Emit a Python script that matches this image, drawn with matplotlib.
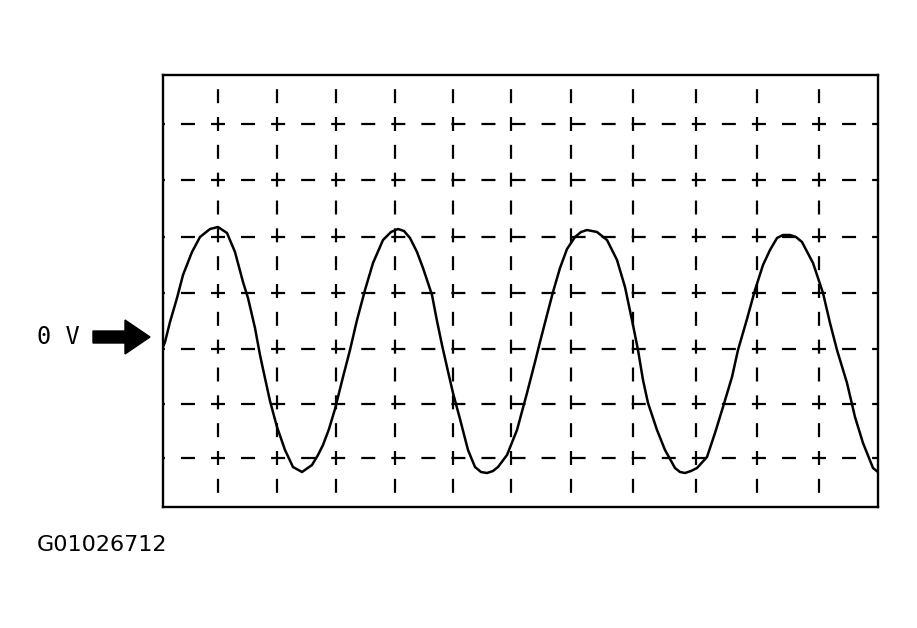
import matplotlib.pyplot as plt
from matplotlib.patches import FancyArrow

# scope trace, in screen units (1 unit ~ 1 px)
# time measured from the left edge of the screen, voltage from the 0 V level
TIME = [0, 2, 7, 14, 20, 29, 37, 47, 55, 64, 72, 80, 85, 92, 97, 100, 107,
        114, 122, 130, 139, 149, 155, 160, 166, 172, 180, 187, 194, 202, 210,
        220, 228, 235, 241, 247, 254, 260, 269, 274, 279, 284, 290, 297, 305,
        312, 318, 324, 330, 335, 344, 354, 364, 372, 377, 384, 390, 397, 404,
        412, 418, 424, 434, 444, 454, 462, 470, 475, 480, 485, 494, 502, 512,
        517, 522, 528, 534, 544, 552, 560, 569, 575, 584, 592, 600, 607, 614,
        620, 627, 633, 639, 650, 660, 667, 674, 684, 692, 700, 710, 715]
VOLT = [2, 7, 27, 51, 74, 97, 112, 120, 122, 116, 97, 67, 51, 21, -6, -20,
        -52, -78, -101, -118, -123, -116, -106, -96, -80, -60, -28, -1, 29,
        59, 86, 109, 117, 120, 118, 111, 97, 81, 54, 28, 4, -18, -44, -70,
        -101, -118, -123, -124, -122, -118, -106, -81, -44, -13, 7, 34, 57,
        81, 100, 112, 117, 119, 117, 109, 89, 62, 24, -1, -31, -54, -81, -101,
        -119, -123, -124, -122, -119, -108, -84, -58, -28, -1, 30, 59, 84, 99,
        111, 114, 114, 112, 107, 86, 56, 26, -1, -34, -68, -94, -119, -123]

# hand drawn graticule
GRID_T = [55, 114, 173, 232, 290, 348, 408, 470, 533, 594, 656]
GRID_V = [-109, -55, 0, 56, 112, 169, 225]

T_MAX = 715
V_MIN, V_MAX = -158, 274

ZERO_LABEL = "0 V"
FIG_CODE = "G01026712"

DPI = 100
PX2PT = 72 / DPI

plt.rcParams["lines.scale_dashes"] = False

fig = plt.figure(figsize=(9.17, 6.28), dpi=DPI)
ax = fig.add_axes([163 / 917, 121 / 628, 715 / 917, 432 / 628])
ax.set_xlim(0, T_MAX)
ax.set_ylim(V_MIN, V_MAX)
ax.set_xticks([])
ax.set_yticks([])
for s in ax.spines.values():
    s.set_linewidth(1.7)
    s.set_color("black")

# dashes centred on the crossings, midway dash in between
half_t = (GRID_T[-1] - GRID_T[0]) / (len(GRID_T) - 1) / 2
dash_on = 14
off_h = (2 * half_t - (GRID_T[0] - dash_on / 2)) % (2 * half_t)
for v in GRID_V:
    ax.axhline(v, color="black", lw=1.6,
               linestyle=(off_h * PX2PT, (dash_on * PX2PT, (half_t - dash_on) * PX2PT)))

half_v = (GRID_V[-1] - GRID_V[0]) / (len(GRID_V) - 1) / 2
start_v = GRID_V[0] - V_MIN - dash_on / 2
off_v = (2 * half_v - start_v) % (2 * half_v)
for t in GRID_T:
    ax.axvline(t, color="black", lw=1.6,
               linestyle=(off_v * PX2PT, (dash_on * PX2PT, (half_v - dash_on) * PX2PT)))

ax.plot(TIME, VOLT, color="black", lw=1.8, solid_joinstyle="round", zorder=3)

# pointer for the 0 V level
arrow = FancyArrow(-70, 12, 57, 0, width=12, head_width=34, head_length=25,
                   length_includes_head=True, color="black", clip_on=False)
ax.add_patch(arrow)

fig.text(37 / 917, 1 - 337 / 628, ZERO_LABEL, family="DejaVu Sans Mono",
         fontsize=17, va="center", ha="left")
fig.text(37 / 917, 1 - 545 / 628, FIG_CODE, family="DejaVu Sans",
         fontsize=16, va="center", ha="left")

fig.savefig("out.png", dpi=DPI, facecolor="white")
